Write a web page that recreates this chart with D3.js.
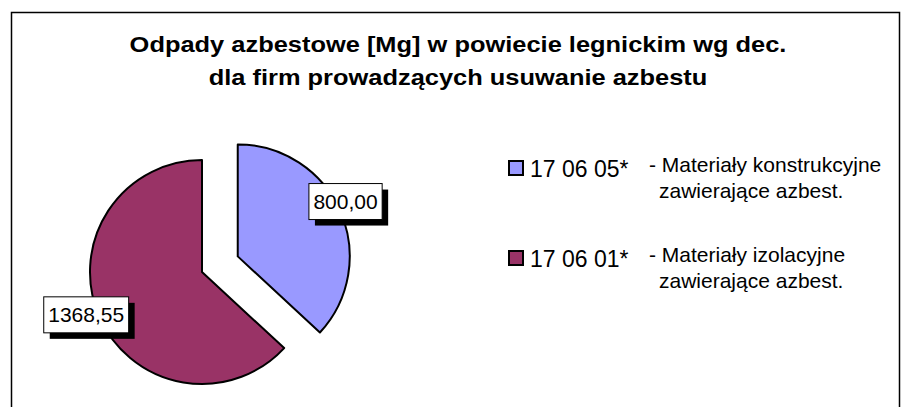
<!DOCTYPE html>
<html>
<head>
<meta charset="utf-8">
<script src="https://cdn.jsdelivr.net/npm/d3@7"></script>
<style>
  body { margin: 0; background: #fff; }
  text { font-family: Arial, "Liberation Sans", sans-serif; }
</style>
</head>
<body>
<div id="chart"></div>
<script>
// dane
const codes = ["17 06 05*", "17 06 01*"];
const values = [800.00, 1368.55];
const descriptions = [
    ["- Materiały konstrukcyjne", "zawierające azbest."],
    ["- Materiały izolacyjne", "zawierające azbest."]
];
const colors = ["#9999FF", "#993366"];
const titleLines = [
    "Odpady azbestowe [Mg] w powiecie legnickim wg dec.",
    "dla firm prowadzących usuwanie azbestu"
];
const exploded = [true, false];

const width = 901;
const height = 407;

const svg = d3.select("#chart")
    .append("svg")
    .attr("width", width)
    .attr("height", height);

// ramka wykresu
svg.append("rect")
    .attr("x", 11.5)
    .attr("y", 12.5)
    .attr("width", 888)
    .attr("height", 420)
    .attr("fill", "none")
    .attr("stroke", "#000")
    .attr("stroke-width", 1.5);

// tytul jest w oryginale troche rozciagniety w poziomie
svg.selectAll(".title")
    .data(titleLines)
    .enter().append("text")
    .attr("class", "title")
    .attr("transform", (d, i) => `translate(458,${52 + i * 33}) scale(1.13,1)`)
    .attr("text-anchor", "middle")
    .style("font-size", "22.5px")
    .style("font-weight", "bold")
    .text(d => d);

// wykres kołowy
const radius = 112;
const center = { x: 202, y: 272 };
const explodeDist = 39;

const pie = d3.pie().sort(null).value(d => d)(values);
const arc = d3.arc().innerRadius(0).outerRadius(radius);

const fmt = v => d3.format(".2f")(v).replace(".", ",");

const slices = svg.append("g")
    .attr("transform", `translate(${center.x},${center.y})`);

pie.forEach((p, i) => {
    const mid = (p.startAngle + p.endAngle) / 2;
    const off = exploded[i] ? explodeDist : 0;
    const dx = Math.sin(mid) * off;
    const dy = -Math.cos(mid) * off;
    slices.append("path")
        .attr("d", arc(p))
        .attr("transform", `translate(${dx},${dy})`)
        .attr("fill", colors[i])
        .attr("stroke", "#000")
        .attr("stroke-width", 2)
        .attr("stroke-linejoin", "round");
});

// etykiety z cieniem
pie.forEach((p, i) => {
    const mid = (p.startAngle + p.endAngle) / 2;
    const off = exploded[i] ? explodeDist : 0;
    const lr = radius + 10;
    const lx = Math.sin(mid) * (lr + off);
    const ly = -Math.cos(mid) * (lr + off) - 6;
    const g = slices.append("g").attr("transform", `translate(${lx - 4},${ly})`);
    const t = g.append("text")
        .attr("text-anchor", "middle")
        .attr("y", 7)
        .style("font-size", "21px")
        .text(fmt(values[i]));
    const w = t.node().getComputedTextLength() + 9;
    const h = 36;
    g.insert("rect", "text")
        .attr("x", -w / 2 + 6)
        .attr("y", -h / 2 + 6)
        .attr("width", w)
        .attr("height", h)
        .attr("fill", "#000");
    g.insert("rect", "text")
        .attr("x", -w / 2)
        .attr("y", -h / 2)
        .attr("width", w)
        .attr("height", h)
        .attr("fill", "#fff")
        .attr("stroke", "#000")
        .attr("stroke-width", 1);
});

// legenda
const legend = svg.append("g");
codes.forEach((c, i) => {
    const yb = 177 + i * 90;
    legend.append("rect")
        .attr("x", 509)
        .attr("y", yb - 16)
        .attr("width", 14)
        .attr("height", 14)
        .attr("fill", colors[i])
        .attr("stroke", "#000")
        .attr("stroke-width", 2);
    legend.append("text")
        .attr("x", 530)
        .attr("y", yb)
        .style("font-size", "23px")
        .text(c);
    descriptions[i].forEach((line, j) => {
        legend.append("text")
            .attr("x", j === 0 ? 649 : 659)
            .attr("y", yb - 5 + j * 25.5)
            .style("font-size", "21px")
            .text(line);
    });
});
</script>
</body>
</html>
